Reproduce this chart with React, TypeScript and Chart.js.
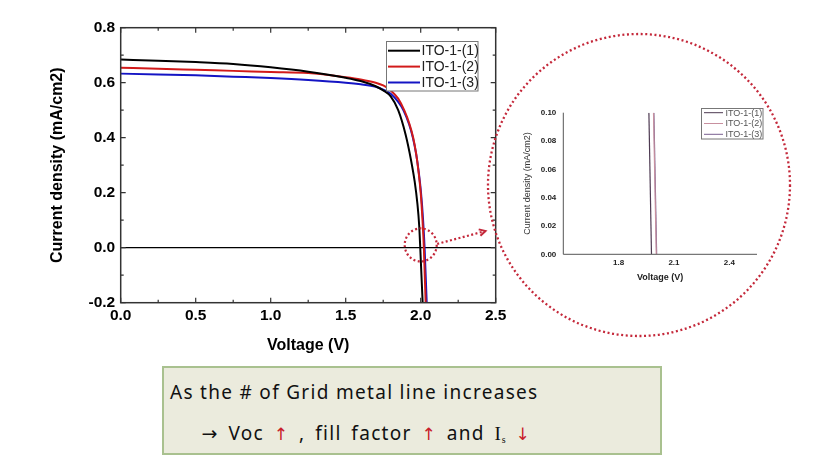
import React, { useEffect, useRef } from 'react';
import { Chart, registerables } from 'chart.js';

Chart.register(...registerables);

// ---------- main chart data ----------
const SERIES_LABELS = ['ITO-1-(1)', 'ITO-1-(2)', 'ITO-1-(3)'];
const SERIES_COLORS = ['#000000', '#d21a1a', '#1414c4'];

const V_1 = [0, 0.25, 0.5, 0.75, 1.0, 1.25, 1.5, 1.6, 1.7, 1.75, 1.8, 1.85, 1.9, 1.935, 1.96, 1.978, 1.99, 1.997, 2.013];
const J_1 = [0.684, 0.680, 0.675, 0.668, 0.656, 0.640, 0.618, 0.606, 0.587, 0.572, 0.550, 0.500, 0.410, 0.320, 0.240, 0.160, 0.080, 0.0, -0.2];

const V_2 = [0, 0.25, 0.5, 0.75, 1.0, 1.25, 1.5, 1.6, 1.7, 1.75, 1.8, 1.85, 1.89, 1.925, 1.95, 1.97, 1.987, 2.0, 2.012, 2.021, 2.033];
const J_2 = [0.654, 0.651, 0.647, 0.643, 0.639, 0.635, 0.620, 0.612, 0.600, 0.590, 0.572, 0.542, 0.500, 0.450, 0.400, 0.340, 0.270, 0.200, 0.100, 0.0, -0.2];

const V_3 = [0, 0.25, 0.5, 0.75, 1.0, 1.25, 1.5, 1.6, 1.7, 1.75, 1.8, 1.85, 1.885, 1.922, 1.948, 1.97, 1.988, 2.002, 2.016, 2.026, 2.04];
const J_3 = [0.633, 0.630, 0.627, 0.622, 0.617, 0.610, 0.600, 0.594, 0.585, 0.575, 0.560, 0.530, 0.500, 0.450, 0.400, 0.340, 0.270, 0.200, 0.100, 0.0, -0.2];

const X_TICKS = [0, 0.5, 1.0, 1.5, 2.0, 2.5];
const X_MINOR = [0.25, 0.75, 1.25, 1.75, 2.25];
const Y_TICKS = [-0.2, 0, 0.2, 0.4, 0.6, 0.8];
const Y_MINOR = [-0.1, 0.1, 0.3, 0.5, 0.7];

// ---------- inset chart data ----------
const INSET_COLORS = ['#4e3a52', '#c8909f', '#7a6090'];
const INSET_V_1 = [1.964, 1.978];
const INSET_J_1 = [0.1, 0.0];
const INSET_V_2 = [1.989, 2.004];
const INSET_J_2 = [0.1, 0.0];
const INSET_V_3 = [1.991, 2.006];
const INSET_J_3 = [0.1, 0.0];
const INSET_X_TICKS = [1.8, 2.1, 2.4];
const INSET_Y_TICKS = [0, 0.02, 0.04, 0.06, 0.08, 0.1];

const FONT = 'Arial, "Liberation Sans", sans-serif';
const RED = '#c4283a';

const toPoints = (xs: number[], ys: number[]) => xs.map((x, i) => ({ x, y: ys[i] }));

const mainDecor = {
  id: 'mainDecor',
  beforeDatasetsDraw(chart: any) {
    const { ctx, chartArea: a, scales } = chart;
    const y0 = scales.y.getPixelForValue(0);
    ctx.save();
    ctx.strokeStyle = '#000';
    ctx.lineWidth = 1.2;
    ctx.beginPath();
    ctx.moveTo(a.left, y0);
    ctx.lineTo(a.right, y0);
    ctx.stroke();
    ctx.restore();
  },
  afterDatasetsDraw(chart: any) {
    const { ctx, chartArea: a, scales } = chart;
    const xs = scales.x, ys = scales.y;
    ctx.save();
    ctx.strokeStyle = '#333';
    ctx.lineWidth = 1.5;
    ctx.strokeRect(a.left, a.top, a.right - a.left, a.bottom - a.top);
    ctx.lineWidth = 1.2;
    ctx.beginPath();
    const tick = (vals: number[], len: number) => {
      vals.forEach((v) => {
        const px = xs.getPixelForValue(v);
        ctx.moveTo(px, a.bottom); ctx.lineTo(px, a.bottom - len);
        ctx.moveTo(px, a.top); ctx.lineTo(px, a.top + len);
      });
    };
    const ytick = (vals: number[], len: number) => {
      vals.forEach((v) => {
        const py = ys.getPixelForValue(v);
        ctx.moveTo(a.left, py); ctx.lineTo(a.left + len, py);
        ctx.moveTo(a.right, py); ctx.lineTo(a.right - len, py);
      });
    };
    tick(X_TICKS, 5); tick(X_MINOR, 3);
    ytick(Y_TICKS, 5); ytick(Y_MINOR, 3);
    ctx.stroke();
    ctx.restore();
  },
  afterDraw(chart: any) {
    const { ctx, scales } = chart;
    ctx.save();
    // legend
    const lx = 386.5, ly = 41.5, lw = 91.5, lh = 49.5;
    ctx.fillStyle = '#fff';
    ctx.fillRect(lx, ly, lw, lh);
    ctx.strokeStyle = '#777';
    ctx.lineWidth = 1;
    ctx.strokeRect(lx, ly, lw, lh);
    ctx.font = `14px ${FONT}`;
    ctx.textBaseline = 'middle';
    ctx.textAlign = 'left';
    chart.data.datasets.forEach((ds: any, i: number) => {
      const ry = 50.7 + i * 15.9;
      ctx.strokeStyle = ds.borderColor;
      ctx.lineWidth = 2;
      ctx.beginPath();
      ctx.moveTo(388, ry); ctx.lineTo(420, ry);
      ctx.stroke();
      ctx.fillStyle = '#222';
      ctx.fillText(ds.label, 421.5, ry + 0.5);
    });
    // dotted annotations
    ctx.strokeStyle = RED;
    ctx.lineWidth = 2.2;
    ctx.setLineDash([2, 2.4]);
    const cx = scales.x.getPixelForValue(2.0);
    const cy = scales.y.getPixelForValue(0.01);
    ctx.beginPath();
    ctx.ellipse(cx, cy, 16, 16.5, 0, 0, Math.PI * 2);
    ctx.stroke();
    const sx = cx + 16.5, sy = cy - 1;
    const ex = 485.5, ey = 231;
    ctx.beginPath();
    ctx.moveTo(sx, sy); ctx.lineTo(ex, ey);
    ctx.stroke();
    ctx.setLineDash([]);
    const ang = Math.atan2(ey - sy, ex - sx);
    ctx.lineWidth = 2;
    ctx.beginPath();
    ctx.moveTo(ex - 7 * Math.cos(ang - 0.5), ey - 7 * Math.sin(ang - 0.5));
    ctx.lineTo(ex, ey);
    ctx.lineTo(ex - 7 * Math.cos(ang + 0.5), ey - 7 * Math.sin(ang + 0.5));
    ctx.stroke();
    ctx.setLineDash([2, 2.6]);
    ctx.lineWidth = 2.3;
    ctx.beginPath();
    ctx.arc(639, 185, 151, 0, Math.PI * 2);
    ctx.stroke();
    ctx.restore();
  },
};

const insetDecor = {
  id: 'insetDecor',
  afterDatasetsDraw(chart: any) {
    const { ctx, chartArea: a } = chart;
    ctx.save();
    ctx.strokeStyle = '#555';
    ctx.lineWidth = 1;
    ctx.beginPath();
    ctx.moveTo(a.left, a.top);
    ctx.lineTo(a.left, a.bottom);
    ctx.lineTo(a.right, a.bottom);
    ctx.stroke();
    // legend
    const lx = 201.5, ly = 18.5, lw = 61.5, lh = 30.5;
    ctx.strokeStyle = '#777';
    ctx.strokeRect(lx, ly, lw, lh);
    ctx.font = `9px ${FONT}`;
    ctx.textBaseline = 'middle';
    ctx.textAlign = 'left';
    chart.data.datasets.forEach((ds: any, i: number) => {
      const ry = 22.7 + i * 10.8;
      ctx.strokeStyle = ds.borderColor;
      ctx.lineWidth = 1;
      ctx.beginPath();
      ctx.moveTo(204, ry); ctx.lineTo(223, ry);
      ctx.stroke();
      ctx.fillStyle = '#555';
      ctx.fillText(ds.label, 225.5, ry + 0.5);
    });
    ctx.restore();
  },
};

export default function App() {
  const mainRef = useRef<HTMLCanvasElement>(null);
  const insetRef = useRef<HTMLCanvasElement>(null);

  useEffect(() => {
    const mainSeries = [
      toPoints(V_1, J_1),
      toPoints(V_2, J_2),
      toPoints(V_3, J_3),
    ];
    const main = new Chart(mainRef.current as HTMLCanvasElement, {
      type: 'line',
      data: {
        datasets: mainSeries.map((d, i) => ({
          label: SERIES_LABELS[i],
          data: d,
          borderColor: SERIES_COLORS[i],
          backgroundColor: SERIES_COLORS[i],
          borderWidth: 2,
          pointRadius: 0,
          cubicInterpolationMode: 'monotone' as const,
          fill: false,
        })),
      },
      options: {
        animation: false,
        responsive: false,
        devicePixelRatio: 1,
        layout: { padding: { left: 47.9, top: 27.7, right: 325.3, bottom: 108.7 } },
        plugins: { legend: { display: false }, tooltip: { enabled: false } },
        scales: {
          x: {
            type: 'linear',
            min: 0,
            max: 2.5,
            afterBuildTicks: (s: any) => { s.ticks = X_TICKS.map((v) => ({ value: v })); },
            afterFit: (s: any) => { s.height = 52.6; },
            grid: { display: false, drawTicks: false },
            border: { display: false },
            ticks: {
              padding: 4,
              autoSkip: false,
              maxRotation: 0,
              color: '#000',
              font: { family: FONT, size: 15.5, weight: 'bold' },
              callback: (v: any) => Number(v).toFixed(1),
            },
            title: {
              display: true,
              text: 'Voltage (V)',
              color: '#000',
              padding: 0,
              font: { family: FONT, size: 16, weight: 'bold' },
            },
          },
          y: {
            type: 'linear',
            min: -0.2,
            max: 0.8,
            afterBuildTicks: (s: any) => { s.ticks = Y_TICKS.map((v) => ({ value: v })); },
            afterFit: (s: any) => { s.width = 72.8; },
            grid: { display: false, drawTicks: false },
            border: { display: false },
            ticks: {
              padding: 5.5,
              autoSkip: false,
              color: '#000',
              font: { family: FONT, size: 15.5, weight: 'bold' },
              callback: (v: any) => Number(v).toFixed(1),
            },
            title: {
              display: true,
              text: 'Current density (mA/cm2)',
              color: '#000',
              padding: 0,
              font: { family: FONT, size: 16, weight: 'bold' },
            },
          },
        },
      },
      plugins: [mainDecor],
    } as any);

    const insetSeries = [
      toPoints(INSET_V_1, INSET_J_1),
      toPoints(INSET_V_2, INSET_J_2),
      toPoints(INSET_V_3, INSET_J_3),
    ];
    const inset = new Chart(insetRef.current as HTMLCanvasElement, {
      type: 'line',
      data: {
        datasets: insetSeries.map((d, i) => ({
          label: SERIES_LABELS[i],
          data: d,
          borderColor: INSET_COLORS[i],
          backgroundColor: INSET_COLORS[i],
          borderWidth: 1.2,
          pointRadius: 0,
          fill: false,
        })),
      },
      options: {
        animation: false,
        responsive: false,
        devicePixelRatio: 1,
        layout: { padding: { left: 21.9, top: 22.7, right: 23, bottom: 7.4 } },
        plugins: { legend: { display: false }, tooltip: { enabled: false } },
        scales: {
          x: {
            type: 'linear',
            min: 1.5,
            max: 2.55,
            afterBuildTicks: (s: any) => { s.ticks = INSET_X_TICKS.map((v) => ({ value: v })); },
            afterFit: (s: any) => { s.height = 28.3; },
            grid: { display: false, drawTicks: false },
            border: { display: false },
            ticks: {
              padding: 4,
              autoSkip: false,
              maxRotation: 0,
              color: '#222',
              font: { family: FONT, size: 8, weight: 'bold' },
              callback: (v: any) => Number(v).toFixed(1),
            },
            title: {
              display: true,
              text: 'Voltage (V)',
              color: '#222',
              padding: 0,
              font: { family: FONT, size: 9, weight: 'bold' },
            },
          },
          y: {
            type: 'linear',
            min: 0,
            max: 0.1,
            afterBuildTicks: (s: any) => { s.ticks = INSET_Y_TICKS.map((v) => ({ value: v })); },
            afterFit: (s: any) => { s.width = 41.4; },
            grid: { display: false, drawTicks: false },
            border: { display: false },
            ticks: {
              padding: 7,
              autoSkip: false,
              color: '#222',
              font: { family: FONT, size: 8, weight: 'bold' },
              callback: (v: any) => Number(v).toFixed(2),
            },
            title: {
              display: true,
              text: 'Current density (mA/cm2)',
              color: '#333',
              padding: 0,
              font: { family: FONT, size: 9 },
            },
          },
        },
      },
      plugins: [insetDecor],
    } as any);

    return () => {
      main.destroy();
      inset.destroy();
    };
  }, []);

  const textFont = '"Noto Sans", "Open Sans", sans-serif';
  const arrowFont = '"DejaVu Sans", sans-serif';
  const red: React.CSSProperties = { color: '#c8202a', fontFamily: arrowFont, fontSize: 17 };

  return (
    <div style={{ position: 'absolute', left: 0, top: 0, width: 821, height: 464, background: '#fff', overflow: 'hidden' }}>
      <canvas ref={mainRef} width={821} height={464} style={{ position: 'absolute', left: 0, top: 0, width: 821, height: 464 }} />
      <canvas ref={insetRef} width={280} height={200} style={{ position: 'absolute', left: 500, top: 90, width: 280, height: 200 }} />
      <div
        style={{
          position: 'absolute',
          left: 162,
          top: 366,
          width: 500,
          height: 89,
          boxSizing: 'border-box',
          background: '#ebebdd',
          border: '2px solid #a9c18f',
          fontFamily: textFont,
          fontSize: 19,
          color: '#111',
          lineHeight: '24px',
          whiteSpace: 'nowrap',
        }}
      >
        <div style={{ position: 'absolute', left: 6, top: 11.5, letterSpacing: 1.3 }}>As the # of Grid metal line increases</div>
        <div style={{ position: 'absolute', left: 37.5, top: 53, letterSpacing: 1.3, wordSpacing: 3.5 }}>
          <span style={{ fontFamily: arrowFont, fontSize: 19 }}>→</span> Voc <span style={red}>↑</span> , fill factor{' '}
          <span style={red}>↑</span> and{' '}
          <span style={{ fontFamily: '"Liberation Serif", "DejaVu Serif", serif', letterSpacing: 0 }}>
            I<sub style={{ fontSize: 10, verticalAlign: '-3px', marginLeft: 1 }}>s</sub>
          </span>{' '}
          <span style={red}>↓</span>
        </div>
      </div>
    </div>
  );
}
